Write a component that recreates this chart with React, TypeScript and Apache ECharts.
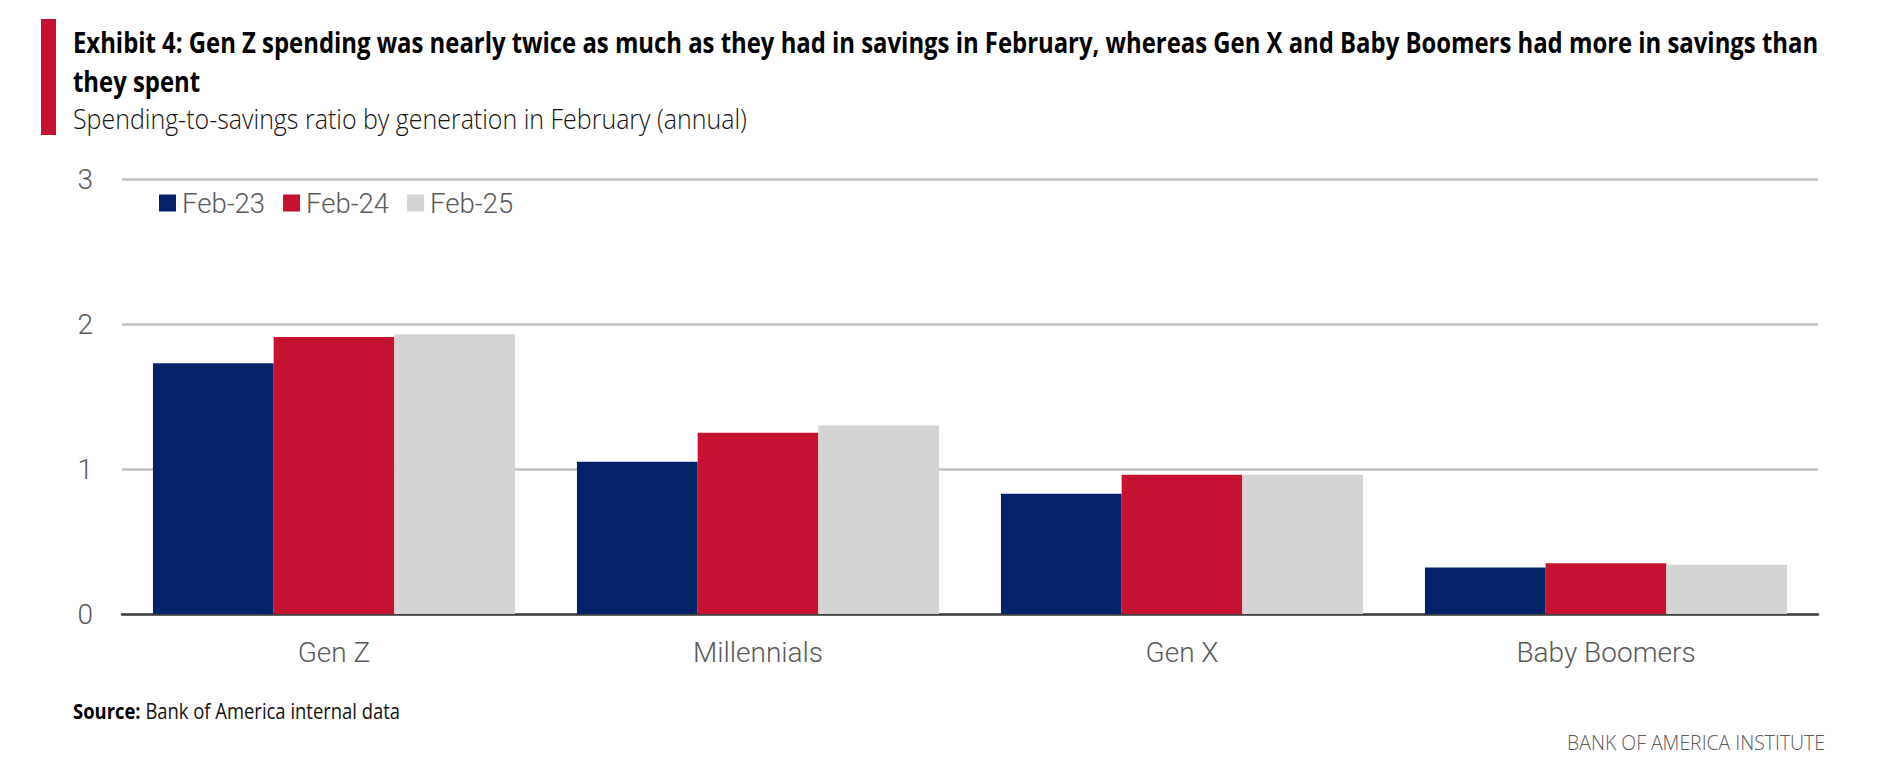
import React, { useEffect, useRef } from "react";
import * as echarts from "echarts";

const categories = ["Gen Z", "Millennials", "Gen X", "Baby Boomers"];
const seriesNames = ["Feb-23", "Feb-24", "Feb-25"];
const feb23 = [1.73, 1.05, 0.83, 0.32];
const feb24 = [1.91, 1.25, 0.96, 0.35];
const feb25 = [1.93, 1.3, 0.96, 0.34];
const yTicks = [0, 1, 2, 3];

const titleLine1 =
  "Exhibit 4: Gen Z spending was nearly twice as much as they had in savings in February, whereas Gen X and Baby Boomers had more in savings than";
const titleLine2 = "they spent";
const subtitle = "Spending-to-savings ratio by generation in February (annual)";
const sourceBold = "Source:";
const sourceText = " Bank of America internal data";
const footer = "BANK OF AMERICA INSTITUTE";

const COLORS = ["#03226A", "#C41230", "#D4D4D4"];
const LABEL_FONT = "Roboto";
const HEAD_FONT = "'Open Sans'";

function measure(text: string, font: string): number {
  const c = document.createElement("canvas");
  const ctx = c.getContext("2d");
  if (!ctx) return 1;
  ctx.font = font;
  return ctx.measureText(text).width || 1;
}

export default function App() {
  const ref = useRef<HTMLDivElement>(null);

  useEffect(() => {
    if (!ref.current) return;
    const chart = echarts.init(ref.current, undefined, { renderer: "svg" });

    const t1w = measure(titleLine1, `700 28px ${HEAD_FONT}`);
    const titleScale = 1745 / t1w;
    const subW = measure(subtitle, `300 28px ${HEAD_FONT}`);
    const subScale = 674 / subW;
    const srcW =
      measure(sourceBold, `700 21px ${HEAD_FONT}`) +
      measure(sourceText, `400 21px ${HEAD_FONT}`);
    const srcScale = 327 / srcW;
    const footW = measure(footer, `300 21px ${HEAD_FONT}`);
    const footScale = 258 / footW;

    const dataSets = [feb23, feb24, feb25];

    chart.setOption({
      animation: false,
      backgroundColor: "#ffffff",
      grid: { left: 122, right: 60, top: 179, bottom: 154, containLabel: false },
      legend: {
        left: 159,
        top: 189,
        padding: 0,
        itemWidth: 17,
        itemHeight: 17,
        itemGap: 18,
        icon: "rect",
        data: seriesNames,
        textStyle: {
          fontFamily: LABEL_FONT,
          fontWeight: 300,
          fontSize: 27.5,
          color: "#595959",
          padding: [0, 0, 0, 1],
        },
      },
      xAxis: {
        type: "category",
        data: categories,
        axisTick: { show: false },
        axisLine: { show: true, lineStyle: { color: "#404040", width: 2.5 } },
        axisLabel: {
          margin: 24,
          fontFamily: LABEL_FONT,
          fontWeight: 300,
          fontSize: 28,
          color: "#595959",
        },
      },
      yAxis: {
        type: "value",
        min: yTicks[0],
        max: yTicks[yTicks.length - 1],
        interval: 1,
        axisLine: { show: false },
        axisTick: { show: false },
        splitLine: { lineStyle: { color: "#BFBFBF", width: 2.5 } },
        axisLabel: {
          margin: 29,
          fontFamily: LABEL_FONT,
          fontWeight: 300,
          fontSize: 28,
          color: "#595959",
        },
      },
      series: seriesNames.map((name, i) => ({
        name,
        type: "bar",
        data: dataSets[i],
        barGap: "0%",
        barCategoryGap: "14.6%",
        itemStyle: { color: COLORS[i] },
      })),
      graphic: [
        {
          type: "rect",
          shape: { x: 41, y: 19, width: 15, height: 116 },
          style: { fill: "#C41230" },
        },
        {
          type: "text",
          x: 73,
          y: 42,
          scaleX: titleScale,
          style: {
            text: titleLine1,
            fontFamily: HEAD_FONT,
            fontWeight: 700,
            fontSize: 28,
            fill: "#000000",
            verticalAlign: "middle",
            align: "left",
          },
        },
        {
          type: "text",
          x: 73,
          y: 81,
          scaleX: titleScale,
          style: {
            text: titleLine2,
            fontFamily: HEAD_FONT,
            fontWeight: 700,
            fontSize: 28,
            fill: "#000000",
            verticalAlign: "middle",
            align: "left",
          },
        },
        {
          type: "text",
          x: 73,
          y: 118,
          scaleX: subScale,
          style: {
            text: subtitle,
            fontFamily: HEAD_FONT,
            fontWeight: 300,
            fontSize: 28,
            fill: "#111111",
            verticalAlign: "middle",
            align: "left",
          },
        },
        {
          type: "text",
          x: 73,
          y: 711,
          scaleX: srcScale,
          style: {
            text: `{b|${sourceBold}}{r|${sourceText}}`,
            verticalAlign: "middle",
            align: "left",
            rich: {
              b: {
                fontFamily: HEAD_FONT,
                fontWeight: 700,
                fontSize: 21,
                fill: "#000000",
                color: "#000000",
              },
              r: {
                fontFamily: HEAD_FONT,
                fontWeight: 400,
                fontSize: 21,
                fill: "#111111",
                color: "#111111",
              },
            },
          },
        },
        {
          type: "text",
          x: 1825,
          y: 742,
          scaleX: footScale,
          style: {
            text: footer,
            fontFamily: HEAD_FONT,
            fontWeight: 300,
            fontSize: 21,
            fill: "#595959",
            verticalAlign: "middle",
            align: "right",
          },
        },
      ],
    });

    return () => {
      chart.dispose();
    };
  }, []);

  return (
    <div
      ref={ref}
      style={{ position: "fixed", left: 0, top: 0, width: 1878, height: 768, background: "#fff" }}
    />
  );
}
